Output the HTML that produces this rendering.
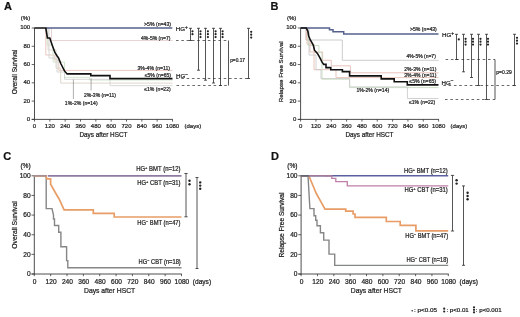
<!DOCTYPE html>
<html><head><meta charset="utf-8"><style>
html,body{margin:0;padding:0;background:#fff;}
svg{display:block;font-family:"Liberation Sans", sans-serif;filter:blur(0.3px);}
text{stroke:#222;stroke-width:0.22px;}
</style></head><body>
<svg width="520" height="317" viewBox="0 0 520 317">
<rect width="520" height="317" fill="#fff"/>
<text x="4.00" y="9.60" font-size="11" font-weight="bold" fill="#111">A</text>
<line x1="34.50" y1="27.70" x2="34.50" y2="119.80" stroke="#3a3a3a" stroke-width="0.9"/>
<line x1="31.70" y1="119.40" x2="172.90" y2="119.40" stroke="#3a3a3a" stroke-width="0.9"/>
<line x1="31.70" y1="119.40" x2="34.50" y2="119.40" stroke="#3a3a3a" stroke-width="0.8"/>
<text x="30.20" y="120.85" font-size="6.0" text-anchor="end" fill="#222">0</text>
<line x1="31.70" y1="101.12" x2="34.50" y2="101.12" stroke="#3a3a3a" stroke-width="0.8"/>
<text x="30.20" y="102.57" font-size="6.0" text-anchor="end" fill="#222">20</text>
<line x1="31.70" y1="82.84" x2="34.50" y2="82.84" stroke="#3a3a3a" stroke-width="0.8"/>
<text x="30.20" y="84.29" font-size="6.0" text-anchor="end" fill="#222">40</text>
<line x1="31.70" y1="64.56" x2="34.50" y2="64.56" stroke="#3a3a3a" stroke-width="0.8"/>
<text x="30.20" y="66.01" font-size="6.0" text-anchor="end" fill="#222">60</text>
<line x1="31.70" y1="46.28" x2="34.50" y2="46.28" stroke="#3a3a3a" stroke-width="0.8"/>
<text x="30.20" y="47.73" font-size="6.0" text-anchor="end" fill="#222">80</text>
<line x1="31.70" y1="28.00" x2="34.50" y2="28.00" stroke="#3a3a3a" stroke-width="0.8"/>
<text x="30.20" y="29.45" font-size="6.0" text-anchor="end" fill="#222">100</text>
<line x1="34.50" y1="119.40" x2="34.50" y2="121.60" stroke="#3a3a3a" stroke-width="0.8"/>
<text x="34.50" y="128.00" font-size="6.0" text-anchor="middle" fill="#222">0</text>
<line x1="49.83" y1="119.40" x2="49.83" y2="121.60" stroke="#3a3a3a" stroke-width="0.8"/>
<text x="49.83" y="128.00" font-size="6.0" text-anchor="middle" fill="#222">120</text>
<line x1="65.17" y1="119.40" x2="65.17" y2="121.60" stroke="#3a3a3a" stroke-width="0.8"/>
<text x="65.17" y="128.00" font-size="6.0" text-anchor="middle" fill="#222">240</text>
<line x1="80.50" y1="119.40" x2="80.50" y2="121.60" stroke="#3a3a3a" stroke-width="0.8"/>
<text x="80.50" y="128.00" font-size="6.0" text-anchor="middle" fill="#222">360</text>
<line x1="95.83" y1="119.40" x2="95.83" y2="121.60" stroke="#3a3a3a" stroke-width="0.8"/>
<text x="95.83" y="128.00" font-size="6.0" text-anchor="middle" fill="#222">480</text>
<line x1="111.17" y1="119.40" x2="111.17" y2="121.60" stroke="#3a3a3a" stroke-width="0.8"/>
<text x="111.17" y="128.00" font-size="6.0" text-anchor="middle" fill="#222">600</text>
<line x1="126.50" y1="119.40" x2="126.50" y2="121.60" stroke="#3a3a3a" stroke-width="0.8"/>
<text x="126.50" y="128.00" font-size="6.0" text-anchor="middle" fill="#222">720</text>
<line x1="141.83" y1="119.40" x2="141.83" y2="121.60" stroke="#3a3a3a" stroke-width="0.8"/>
<text x="141.83" y="128.00" font-size="6.0" text-anchor="middle" fill="#222">840</text>
<line x1="157.17" y1="119.40" x2="157.17" y2="121.60" stroke="#3a3a3a" stroke-width="0.8"/>
<text x="157.17" y="128.00" font-size="6.0" text-anchor="middle" fill="#222">960</text>
<line x1="172.50" y1="119.40" x2="172.50" y2="121.60" stroke="#3a3a3a" stroke-width="0.8"/>
<text x="172.50" y="128.00" font-size="6.0" text-anchor="middle" fill="#222">1080</text>
<text x="30.20" y="20.40" font-size="6.0" text-anchor="end" fill="#222">(%)</text>
<text x="184.50" y="128.00" font-size="6.0" fill="#222">(days)</text>
<text x="17.20" y="72.00" font-size="6.4" text-anchor="middle" fill="#222" transform="rotate(-90 17.20 72.00)">Overall Survival</text>
<text x="79.40" y="137.00" font-size="6.4" textLength="48.00" lengthAdjust="spacingAndGlyphs" fill="#222">Days after HSCT</text>
<path d="M50.5 28H51.5V40.5H172.5" fill="none" stroke="#e6d0ce" stroke-width="0.9" stroke-linejoin="miter" stroke-linecap="butt"/>
<path d="M45.8 28V55H54.3V60H58.8V70.4H172.5" fill="none" stroke="#e8c4ba" stroke-width="0.9" stroke-linejoin="miter" stroke-linecap="butt"/>
<path d="M47 28V45H53V62H64.5V77.4H89.5V80H172.5" fill="none" stroke="#cfe3c8" stroke-width="0.9" stroke-linejoin="miter" stroke-linecap="butt"/>
<path d="M48 28V50H56V68H60.7V83.1H172.5" fill="none" stroke="#dcd3c6" stroke-width="0.9" stroke-linejoin="miter" stroke-linecap="butt"/>
<path d="M49 28V58H57V72H64.5V79.3H110V85.7H172.5" fill="none" stroke="#d4d4d4" stroke-width="0.9" stroke-linejoin="miter" stroke-linecap="butt"/>
<line x1="73.40" y1="79.50" x2="73.40" y2="99.00" stroke="#777" stroke-width="0.6"/>
<line x1="91.10" y1="78.50" x2="91.10" y2="90.40" stroke="#777" stroke-width="0.6"/>
<path d="M46 28H172.3" fill="none" stroke="#55618c" stroke-width="1.5" stroke-linejoin="miter" stroke-linecap="butt"/>
<path d="M34.5 28H45.8L47.4 38H49.8L52.4 45.8L55 52.7L57.3 56.2L58.5 57.9L61 64L64.5 70.9L67.1 73.9H90.8V75.6H110V78.6H172.5" fill="none" stroke="#111" stroke-width="1.6" stroke-linejoin="miter" stroke-linecap="butt"/>
<text x="144.00" y="25.80" font-size="5.2" textLength="27.00" lengthAdjust="spacingAndGlyphs" fill="#222">&gt;5% (n=43)</text>
<text x="141.00" y="39.90" font-size="5.2" textLength="29.50" lengthAdjust="spacingAndGlyphs" fill="#222">4%-5% (n=7)</text>
<text x="137.50" y="69.60" font-size="5.2" textLength="32.50" lengthAdjust="spacingAndGlyphs" fill="#222">3%-4% (n=11)</text>
<text x="144.80" y="76.80" font-size="5.2" textLength="26.20" lengthAdjust="spacingAndGlyphs" fill="#222">≤5% (n=65)</text>
<text x="144.20" y="91.00" font-size="5.2" textLength="26.60" lengthAdjust="spacingAndGlyphs" fill="#222">≤1% (n=22)</text>
<text x="83.90" y="96.60" font-size="5.2" textLength="32.00" lengthAdjust="spacingAndGlyphs" fill="#222">2%-3% (n=11)</text>
<text x="64.80" y="105.30" font-size="5.2" textLength="32.80" lengthAdjust="spacingAndGlyphs" fill="#222">1%-2% (n=14)</text>
<text x="175.80" y="30.60" font-size="6.2" fill="#222">HG<tspan font-size="4.8" dy="-1.6">+</tspan></text>
<text x="176.00" y="78.20" font-size="6.2" fill="#222">HG<tspan font-size="4.8" dy="-2.4">−</tspan></text>
<line x1="176.00" y1="40.50" x2="228.50" y2="40.50" stroke="#444" stroke-width="0.8" stroke-dasharray="2.6,2.7"/>
<line x1="176.00" y1="78.50" x2="248.50" y2="78.50" stroke="#444" stroke-width="0.8" stroke-dasharray="2.6,2.7"/>
<line x1="176.50" y1="85.50" x2="228.50" y2="85.50" stroke="#444" stroke-width="0.8" stroke-dasharray="2.6,2.7"/>
<path d="M189.00 28.30H192.00M190.50 28.30V40.50M189.00 40.50H192.00" fill="none" stroke="#2a2a2a" stroke-width="0.8" stroke-linejoin="miter" stroke-linecap="butt"/>
<circle cx="192.50" cy="31.30" r="1.1" fill="#222"/>
<circle cx="192.50" cy="34.20" r="1.1" fill="#222"/>
<path d="M197.00 28.30H200.00M198.50 28.30V70.20M197.00 70.20H200.00" fill="none" stroke="#2a2a2a" stroke-width="0.8" stroke-linejoin="miter" stroke-linecap="butt"/>
<circle cx="200.50" cy="31.30" r="1.1" fill="#222"/>
<circle cx="200.50" cy="34.20" r="1.1" fill="#222"/>
<circle cx="200.50" cy="37.10" r="1.1" fill="#222"/>
<path d="M204.00 28.30H207.00M205.50 28.30V80.20M204.00 80.20H207.00" fill="none" stroke="#2a2a2a" stroke-width="0.8" stroke-linejoin="miter" stroke-linecap="butt"/>
<circle cx="207.90" cy="31.30" r="1.1" fill="#222"/>
<circle cx="207.90" cy="34.20" r="1.1" fill="#222"/>
<circle cx="207.90" cy="37.10" r="1.1" fill="#222"/>
<path d="M212.00 28.30H215.00M213.50 28.30V83.00M212.00 83.00H215.00" fill="none" stroke="#2a2a2a" stroke-width="0.8" stroke-linejoin="miter" stroke-linecap="butt"/>
<circle cx="215.60" cy="31.30" r="1.1" fill="#222"/>
<circle cx="215.60" cy="34.20" r="1.1" fill="#222"/>
<circle cx="215.60" cy="37.10" r="1.1" fill="#222"/>
<path d="M219.00 28.30H222.00M220.50 28.30V85.50M219.00 85.50H222.00" fill="none" stroke="#2a2a2a" stroke-width="0.8" stroke-linejoin="miter" stroke-linecap="butt"/>
<circle cx="222.60" cy="31.30" r="1.1" fill="#222"/>
<circle cx="222.60" cy="34.20" r="1.1" fill="#222"/>
<circle cx="222.60" cy="37.10" r="1.1" fill="#222"/>
<line x1="228.50" y1="40.50" x2="228.50" y2="85.50" stroke="#2a2a2a" stroke-width="0.8"/>
<text x="230.20" y="61.90" font-size="5.2" textLength="14.80" lengthAdjust="spacingAndGlyphs" fill="#222">p=0.17</text>
<path d="M247.00 28.30H250.00M248.50 28.30V78.50M247.00 78.50H250.00" fill="none" stroke="#2a2a2a" stroke-width="0.8" stroke-linejoin="miter" stroke-linecap="butt"/>
<circle cx="251.20" cy="31.80" r="1.1" fill="#222"/>
<circle cx="251.20" cy="34.70" r="1.1" fill="#222"/>
<circle cx="251.20" cy="37.60" r="1.1" fill="#222"/>
<text x="270.40" y="9.60" font-size="11" font-weight="bold" fill="#111">B</text>
<line x1="300.60" y1="27.70" x2="300.60" y2="119.80" stroke="#3a3a3a" stroke-width="0.9"/>
<line x1="297.80" y1="119.40" x2="439.00" y2="119.40" stroke="#3a3a3a" stroke-width="0.9"/>
<line x1="297.80" y1="119.40" x2="300.60" y2="119.40" stroke="#3a3a3a" stroke-width="0.8"/>
<text x="296.30" y="120.85" font-size="6.0" text-anchor="end" fill="#222">0</text>
<line x1="297.80" y1="101.12" x2="300.60" y2="101.12" stroke="#3a3a3a" stroke-width="0.8"/>
<text x="296.30" y="102.57" font-size="6.0" text-anchor="end" fill="#222">20</text>
<line x1="297.80" y1="82.84" x2="300.60" y2="82.84" stroke="#3a3a3a" stroke-width="0.8"/>
<text x="296.30" y="84.29" font-size="6.0" text-anchor="end" fill="#222">40</text>
<line x1="297.80" y1="64.56" x2="300.60" y2="64.56" stroke="#3a3a3a" stroke-width="0.8"/>
<text x="296.30" y="66.01" font-size="6.0" text-anchor="end" fill="#222">60</text>
<line x1="297.80" y1="46.28" x2="300.60" y2="46.28" stroke="#3a3a3a" stroke-width="0.8"/>
<text x="296.30" y="47.73" font-size="6.0" text-anchor="end" fill="#222">80</text>
<line x1="297.80" y1="28.00" x2="300.60" y2="28.00" stroke="#3a3a3a" stroke-width="0.8"/>
<text x="296.30" y="29.45" font-size="6.0" text-anchor="end" fill="#222">100</text>
<line x1="300.60" y1="119.40" x2="300.60" y2="121.60" stroke="#3a3a3a" stroke-width="0.8"/>
<text x="300.60" y="128.00" font-size="6.0" text-anchor="middle" fill="#222">0</text>
<line x1="315.93" y1="119.40" x2="315.93" y2="121.60" stroke="#3a3a3a" stroke-width="0.8"/>
<text x="315.93" y="128.00" font-size="6.0" text-anchor="middle" fill="#222">120</text>
<line x1="331.27" y1="119.40" x2="331.27" y2="121.60" stroke="#3a3a3a" stroke-width="0.8"/>
<text x="331.27" y="128.00" font-size="6.0" text-anchor="middle" fill="#222">240</text>
<line x1="346.60" y1="119.40" x2="346.60" y2="121.60" stroke="#3a3a3a" stroke-width="0.8"/>
<text x="346.60" y="128.00" font-size="6.0" text-anchor="middle" fill="#222">360</text>
<line x1="361.93" y1="119.40" x2="361.93" y2="121.60" stroke="#3a3a3a" stroke-width="0.8"/>
<text x="361.93" y="128.00" font-size="6.0" text-anchor="middle" fill="#222">480</text>
<line x1="377.27" y1="119.40" x2="377.27" y2="121.60" stroke="#3a3a3a" stroke-width="0.8"/>
<text x="377.27" y="128.00" font-size="6.0" text-anchor="middle" fill="#222">600</text>
<line x1="392.60" y1="119.40" x2="392.60" y2="121.60" stroke="#3a3a3a" stroke-width="0.8"/>
<text x="392.60" y="128.00" font-size="6.0" text-anchor="middle" fill="#222">720</text>
<line x1="407.93" y1="119.40" x2="407.93" y2="121.60" stroke="#3a3a3a" stroke-width="0.8"/>
<text x="407.93" y="128.00" font-size="6.0" text-anchor="middle" fill="#222">840</text>
<line x1="423.27" y1="119.40" x2="423.27" y2="121.60" stroke="#3a3a3a" stroke-width="0.8"/>
<text x="423.27" y="128.00" font-size="6.0" text-anchor="middle" fill="#222">960</text>
<line x1="438.60" y1="119.40" x2="438.60" y2="121.60" stroke="#3a3a3a" stroke-width="0.8"/>
<text x="438.60" y="128.00" font-size="6.0" text-anchor="middle" fill="#222">1080</text>
<text x="296.30" y="20.40" font-size="6.0" text-anchor="end" fill="#222">(%)</text>
<text x="450.60" y="128.00" font-size="6.0" fill="#222">(days)</text>
<text x="282.90" y="71.80" font-size="6.2" text-anchor="middle" fill="#222" transform="rotate(-90 282.90 71.80)">Relapse Free Survival</text>
<text x="345.50" y="137.00" font-size="6.4" textLength="48.00" lengthAdjust="spacingAndGlyphs" fill="#222">Days after HSCT</text>
<path d="M306 28V40H342.3V60.3H438.5" fill="none" stroke="#c6c6c6" stroke-width="0.9" stroke-linejoin="miter" stroke-linecap="butt"/>
<path d="M306.3 28V40H310V52H322.6V60.3H331.3V65.8H350.4V72.8H438.5" fill="none" stroke="#e6bcb6" stroke-width="0.9" stroke-linejoin="miter" stroke-linecap="butt"/>
<path d="M307 28V44H314V69.7H336V77.6H438.5" fill="none" stroke="#e6bfb2" stroke-width="0.9" stroke-linejoin="miter" stroke-linecap="butt"/>
<path d="M308 28V45.5H318.9V52.6H322V79.2H349.6V87.6H438.5" fill="none" stroke="#c6dcbf" stroke-width="0.9" stroke-linejoin="miter" stroke-linecap="butt"/>
<path d="M309 28V55H316V69.7H321V78.5H349.6V86.9H407.4V98.5H438.5" fill="none" stroke="#cccccc" stroke-width="0.9" stroke-linejoin="miter" stroke-linecap="butt"/>
<path d="M300.6 28H329.5V29.7H333V31.8H343.7V33.9H438.5" fill="none" stroke="#55618c" stroke-width="1.5" stroke-linejoin="miter" stroke-linecap="butt"/>
<path d="M300.6 28H306.3L307.9 31.3L308.7 36L310.3 40L311.8 42.4L313.4 45.5L314.5 50.2L317.4 53.4L319.7 57.3L322.1 62.1L323.7 64.4H326V67.6H330.8V69.8H342.4V71.6H349.6V75.9H381.2V78.9H394.2V81.7H407.3V84.9H438.5" fill="none" stroke="#111" stroke-width="1.6" stroke-linejoin="miter" stroke-linecap="butt"/>
<text x="410.00" y="31.30" font-size="5.2" textLength="26.80" lengthAdjust="spacingAndGlyphs" fill="#222">&gt;5% (n=43)</text>
<text x="406.60" y="57.90" font-size="5.2" textLength="29.20" lengthAdjust="spacingAndGlyphs" fill="#222">4%-5% (n=7)</text>
<text x="404.20" y="70.80" font-size="5.2" textLength="32.20" lengthAdjust="spacingAndGlyphs" fill="#222">2%-3% (n=11)</text>
<text x="404.20" y="76.90" font-size="5.2" textLength="32.20" lengthAdjust="spacingAndGlyphs" fill="#222">3%-4% (n=11)</text>
<text x="409.30" y="83.00" font-size="5.2" textLength="26.80" lengthAdjust="spacingAndGlyphs" fill="#222">≤5% (n=65)</text>
<text x="356.40" y="91.60" font-size="5.2" textLength="32.80" lengthAdjust="spacingAndGlyphs" fill="#222">1%-2% (n=14)</text>
<text x="409.00" y="104.30" font-size="5.2" textLength="26.20" lengthAdjust="spacingAndGlyphs" fill="#222">≤1% (n=22)</text>
<text x="442.00" y="36.70" font-size="6.2" fill="#222">HG<tspan font-size="4.8" dy="-1.6">+</tspan></text>
<text x="441.50" y="84.60" font-size="6.2" fill="#222">HG<tspan font-size="4.8" dy="-2.4">−</tspan></text>
<line x1="445.60" y1="59.50" x2="495.00" y2="59.50" stroke="#444" stroke-width="0.8" stroke-dasharray="2.6,2.7"/>
<line x1="443.30" y1="85.50" x2="514.50" y2="85.50" stroke="#444" stroke-width="0.8" stroke-dasharray="2.6,2.7"/>
<line x1="445.00" y1="99.50" x2="495.00" y2="99.50" stroke="#444" stroke-width="0.8" stroke-dasharray="2.6,2.7"/>
<path d="M455.00 34.30H458.00M456.50 34.30V59.50M455.00 59.50H458.00" fill="none" stroke="#2a2a2a" stroke-width="0.8" stroke-linejoin="miter" stroke-linecap="butt"/>
<circle cx="458.80" cy="39.40" r="1.1" fill="#222"/>
<path d="M462.00 34.30H465.00M463.50 34.30V71.80M462.00 71.80H465.00" fill="none" stroke="#2a2a2a" stroke-width="0.8" stroke-linejoin="miter" stroke-linecap="butt"/>
<circle cx="465.60" cy="38.80" r="1.1" fill="#222"/>
<circle cx="465.60" cy="41.70" r="1.1" fill="#222"/>
<circle cx="465.60" cy="44.60" r="1.1" fill="#222"/>
<path d="M470.00 34.30H473.00M471.50 34.30V77.50M470.00 77.50H473.00" fill="none" stroke="#2a2a2a" stroke-width="0.8" stroke-linejoin="miter" stroke-linecap="butt"/>
<circle cx="473.00" cy="38.80" r="1.1" fill="#222"/>
<circle cx="473.00" cy="41.70" r="1.1" fill="#222"/>
<circle cx="473.00" cy="44.60" r="1.1" fill="#222"/>
<path d="M477.00 34.30H480.00M478.50 34.30V85.50M477.00 85.50H480.00" fill="none" stroke="#2a2a2a" stroke-width="0.8" stroke-linejoin="miter" stroke-linecap="butt"/>
<circle cx="480.50" cy="38.80" r="1.1" fill="#222"/>
<circle cx="480.50" cy="41.70" r="1.1" fill="#222"/>
<circle cx="480.50" cy="44.60" r="1.1" fill="#222"/>
<path d="M485.00 34.30H488.00M486.50 34.30V99.50M485.00 99.50H488.00" fill="none" stroke="#2a2a2a" stroke-width="0.8" stroke-linejoin="miter" stroke-linecap="butt"/>
<circle cx="488.00" cy="38.80" r="1.1" fill="#222"/>
<circle cx="488.00" cy="41.70" r="1.1" fill="#222"/>
<circle cx="488.00" cy="44.60" r="1.1" fill="#222"/>
<line x1="495.00" y1="59.50" x2="495.00" y2="99.50" stroke="#2a2a2a" stroke-width="0.8"/>
<text x="496.30" y="74.20" font-size="5.2" textLength="15.40" lengthAdjust="spacingAndGlyphs" fill="#222">p=0.29</text>
<path d="M513.00 34.30H516.00M514.50 34.30V85.50M513.00 85.50H516.00" fill="none" stroke="#2a2a2a" stroke-width="0.8" stroke-linejoin="miter" stroke-linecap="butt"/>
<circle cx="517.00" cy="37.80" r="1.1" fill="#222"/>
<circle cx="517.00" cy="40.70" r="1.1" fill="#222"/>
<circle cx="517.00" cy="43.60" r="1.1" fill="#222"/>
<text x="3.20" y="160.00" font-size="11" font-weight="bold" fill="#111">C</text>
<line x1="34.30" y1="175.50" x2="34.30" y2="274.40" stroke="#3a3a3a" stroke-width="0.9"/>
<line x1="31.50" y1="274.00" x2="181.90" y2="274.00" stroke="#3a3a3a" stroke-width="0.9"/>
<line x1="31.50" y1="274.00" x2="34.30" y2="274.00" stroke="#3a3a3a" stroke-width="0.8"/>
<text x="30.70" y="276.30" font-size="6.6" text-anchor="end" fill="#222">0</text>
<line x1="31.50" y1="254.36" x2="34.30" y2="254.36" stroke="#3a3a3a" stroke-width="0.8"/>
<text x="30.70" y="256.66" font-size="6.6" text-anchor="end" fill="#222">20</text>
<line x1="31.50" y1="234.72" x2="34.30" y2="234.72" stroke="#3a3a3a" stroke-width="0.8"/>
<text x="30.70" y="237.02" font-size="6.6" text-anchor="end" fill="#222">40</text>
<line x1="31.50" y1="215.08" x2="34.30" y2="215.08" stroke="#3a3a3a" stroke-width="0.8"/>
<text x="30.70" y="217.38" font-size="6.6" text-anchor="end" fill="#222">60</text>
<line x1="31.50" y1="195.44" x2="34.30" y2="195.44" stroke="#3a3a3a" stroke-width="0.8"/>
<text x="30.70" y="197.74" font-size="6.6" text-anchor="end" fill="#222">80</text>
<line x1="31.50" y1="175.80" x2="34.30" y2="175.80" stroke="#3a3a3a" stroke-width="0.8"/>
<text x="30.70" y="178.10" font-size="6.6" text-anchor="end" fill="#222">100</text>
<line x1="34.30" y1="274.00" x2="34.30" y2="276.20" stroke="#3a3a3a" stroke-width="0.8"/>
<text x="34.70" y="283.60" font-size="6.6" text-anchor="middle" fill="#222">0</text>
<line x1="50.66" y1="274.00" x2="50.66" y2="276.20" stroke="#3a3a3a" stroke-width="0.8"/>
<text x="51.06" y="283.60" font-size="6.6" text-anchor="middle" fill="#222">120</text>
<line x1="67.01" y1="274.00" x2="67.01" y2="276.20" stroke="#3a3a3a" stroke-width="0.8"/>
<text x="67.41" y="283.60" font-size="6.6" text-anchor="middle" fill="#222">240</text>
<line x1="83.37" y1="274.00" x2="83.37" y2="276.20" stroke="#3a3a3a" stroke-width="0.8"/>
<text x="83.77" y="283.60" font-size="6.6" text-anchor="middle" fill="#222">360</text>
<line x1="99.72" y1="274.00" x2="99.72" y2="276.20" stroke="#3a3a3a" stroke-width="0.8"/>
<text x="100.12" y="283.60" font-size="6.6" text-anchor="middle" fill="#222">480</text>
<line x1="116.08" y1="274.00" x2="116.08" y2="276.20" stroke="#3a3a3a" stroke-width="0.8"/>
<text x="116.48" y="283.60" font-size="6.6" text-anchor="middle" fill="#222">600</text>
<line x1="132.43" y1="274.00" x2="132.43" y2="276.20" stroke="#3a3a3a" stroke-width="0.8"/>
<text x="132.83" y="283.60" font-size="6.6" text-anchor="middle" fill="#222">720</text>
<line x1="148.79" y1="274.00" x2="148.79" y2="276.20" stroke="#3a3a3a" stroke-width="0.8"/>
<text x="149.19" y="283.60" font-size="6.6" text-anchor="middle" fill="#222">840</text>
<line x1="165.14" y1="274.00" x2="165.14" y2="276.20" stroke="#3a3a3a" stroke-width="0.8"/>
<text x="165.54" y="283.60" font-size="6.6" text-anchor="middle" fill="#222">960</text>
<line x1="181.50" y1="274.00" x2="181.50" y2="276.20" stroke="#3a3a3a" stroke-width="0.8"/>
<text x="181.90" y="283.60" font-size="6.6" text-anchor="middle" fill="#222">1080</text>
<text x="30.70" y="168.00" font-size="6.6" text-anchor="end" fill="#222">(%)</text>
<text x="192.80" y="283.60" font-size="6.6" fill="#222">(days)</text>
<text x="17.00" y="225.00" font-size="6.8" text-anchor="middle" fill="#222" transform="rotate(-90 17.00 225.00)">Overall Survival</text>
<text x="84.00" y="293.00" font-size="6.8" textLength="51.20" lengthAdjust="spacingAndGlyphs" fill="#222">Days after HSCT</text>
<path d="M34.3 175.8H46.2V208.6H52L53.5 215V219H54.5V225.5H58.7V232.2H60.9V246.7H66.6V260.6H67.8V267.7H181.5" fill="none" stroke="#858687" stroke-width="1.4" stroke-linejoin="miter" stroke-linecap="butt"/>
<path d="M34.3 175.8H45.7L47 178.8H50.6V184.2L57 195.5L59.1 199L64.1 209.9H93.3V213.3H114.2V217H181.5" fill="none" stroke="#e89d66" stroke-width="1.7" stroke-linejoin="miter" stroke-linecap="butt"/>
<path d="M47.8 175.9H181.5" fill="none" stroke="#8e7aa2" stroke-width="1.9" stroke-linejoin="miter" stroke-linecap="butt"/>
<path d="M34.3 175.8H46.6" fill="none" stroke="#a89092" stroke-width="1.7" stroke-linejoin="miter" stroke-linecap="butt"/>
<text x="136.20" y="171.40" font-size="6.5" textLength="44.30" lengthAdjust="spacingAndGlyphs" fill="#222">HG<tspan font-size="4.4" dy="-2.1">+</tspan><tspan dy="2.1"> BMT</tspan> (n=12)</text>
<text x="137.30" y="185.20" font-size="6.5" textLength="43.20" lengthAdjust="spacingAndGlyphs" fill="#222">HG<tspan font-size="4.4" dy="-2.1">+</tspan><tspan dy="2.1"> CBT</tspan> (n=31)</text>
<text x="137.30" y="224.90" font-size="6.5" textLength="43.20" lengthAdjust="spacingAndGlyphs" fill="#222">HG<tspan font-size="4.4" dy="-2.1">−</tspan><tspan dy="2.1"> BMT</tspan> (n=47)</text>
<text x="138.50" y="263.80" font-size="6.5" textLength="42.30" lengthAdjust="spacingAndGlyphs" fill="#222">HG<tspan font-size="4.4" dy="-2.1">−</tspan><tspan dy="2.1"> CBT</tspan> (n=18)</text>
<path d="M184.40 173.50H187.60M186.00 173.50V216.80M184.40 216.80H187.60" fill="none" stroke="#2a2a2a" stroke-width="0.8" stroke-linejoin="miter" stroke-linecap="butt"/>
<circle cx="189.50" cy="180.80" r="1.2" fill="#222"/>
<circle cx="189.50" cy="184.20" r="1.2" fill="#222"/>
<path d="M195.50 177.50H198.50M197.00 177.50V268.50M195.50 268.50H198.50" fill="none" stroke="#2a2a2a" stroke-width="0.8" stroke-linejoin="miter" stroke-linecap="butt"/>
<circle cx="200.20" cy="182.40" r="1.2" fill="#222"/>
<circle cx="200.20" cy="185.60" r="1.2" fill="#222"/>
<circle cx="200.20" cy="188.80" r="1.2" fill="#222"/>
<text x="271.00" y="160.00" font-size="11" font-weight="bold" fill="#111">D</text>
<line x1="301.10" y1="175.50" x2="301.10" y2="274.40" stroke="#3a3a3a" stroke-width="0.9"/>
<line x1="298.30" y1="274.00" x2="448.70" y2="274.00" stroke="#3a3a3a" stroke-width="0.9"/>
<line x1="298.30" y1="274.00" x2="301.10" y2="274.00" stroke="#3a3a3a" stroke-width="0.8"/>
<text x="297.50" y="276.30" font-size="6.6" text-anchor="end" fill="#222">0</text>
<line x1="298.30" y1="254.36" x2="301.10" y2="254.36" stroke="#3a3a3a" stroke-width="0.8"/>
<text x="297.50" y="256.66" font-size="6.6" text-anchor="end" fill="#222">20</text>
<line x1="298.30" y1="234.72" x2="301.10" y2="234.72" stroke="#3a3a3a" stroke-width="0.8"/>
<text x="297.50" y="237.02" font-size="6.6" text-anchor="end" fill="#222">40</text>
<line x1="298.30" y1="215.08" x2="301.10" y2="215.08" stroke="#3a3a3a" stroke-width="0.8"/>
<text x="297.50" y="217.38" font-size="6.6" text-anchor="end" fill="#222">60</text>
<line x1="298.30" y1="195.44" x2="301.10" y2="195.44" stroke="#3a3a3a" stroke-width="0.8"/>
<text x="297.50" y="197.74" font-size="6.6" text-anchor="end" fill="#222">80</text>
<line x1="298.30" y1="175.80" x2="301.10" y2="175.80" stroke="#3a3a3a" stroke-width="0.8"/>
<text x="297.50" y="178.10" font-size="6.6" text-anchor="end" fill="#222">100</text>
<line x1="301.10" y1="274.00" x2="301.10" y2="276.20" stroke="#3a3a3a" stroke-width="0.8"/>
<text x="301.50" y="283.60" font-size="6.6" text-anchor="middle" fill="#222">0</text>
<line x1="317.46" y1="274.00" x2="317.46" y2="276.20" stroke="#3a3a3a" stroke-width="0.8"/>
<text x="317.86" y="283.60" font-size="6.6" text-anchor="middle" fill="#222">120</text>
<line x1="333.81" y1="274.00" x2="333.81" y2="276.20" stroke="#3a3a3a" stroke-width="0.8"/>
<text x="334.21" y="283.60" font-size="6.6" text-anchor="middle" fill="#222">240</text>
<line x1="350.17" y1="274.00" x2="350.17" y2="276.20" stroke="#3a3a3a" stroke-width="0.8"/>
<text x="350.57" y="283.60" font-size="6.6" text-anchor="middle" fill="#222">360</text>
<line x1="366.52" y1="274.00" x2="366.52" y2="276.20" stroke="#3a3a3a" stroke-width="0.8"/>
<text x="366.92" y="283.60" font-size="6.6" text-anchor="middle" fill="#222">480</text>
<line x1="382.88" y1="274.00" x2="382.88" y2="276.20" stroke="#3a3a3a" stroke-width="0.8"/>
<text x="383.28" y="283.60" font-size="6.6" text-anchor="middle" fill="#222">600</text>
<line x1="399.23" y1="274.00" x2="399.23" y2="276.20" stroke="#3a3a3a" stroke-width="0.8"/>
<text x="399.63" y="283.60" font-size="6.6" text-anchor="middle" fill="#222">720</text>
<line x1="415.59" y1="274.00" x2="415.59" y2="276.20" stroke="#3a3a3a" stroke-width="0.8"/>
<text x="415.99" y="283.60" font-size="6.6" text-anchor="middle" fill="#222">840</text>
<line x1="431.94" y1="274.00" x2="431.94" y2="276.20" stroke="#3a3a3a" stroke-width="0.8"/>
<text x="432.34" y="283.60" font-size="6.6" text-anchor="middle" fill="#222">960</text>
<line x1="448.30" y1="274.00" x2="448.30" y2="276.20" stroke="#3a3a3a" stroke-width="0.8"/>
<text x="448.70" y="283.60" font-size="6.6" text-anchor="middle" fill="#222">1080</text>
<text x="297.50" y="168.00" font-size="6.6" text-anchor="end" fill="#222">(%)</text>
<text x="459.60" y="283.60" font-size="6.6" fill="#222">(days)</text>
<text x="283.50" y="225.00" font-size="6.6" text-anchor="middle" fill="#222" transform="rotate(-90 283.50 225.00)">Relapse Free Survival</text>
<text x="350.80" y="293.00" font-size="6.8" textLength="51.20" lengthAdjust="spacingAndGlyphs" fill="#222">Days after HSCT</text>
<path d="M301.1 175.8H308L309.9 208.6H314V215.7H315.7V220.2H317V225.8H320.4V232.8H323.7V240.1H329V254.1H334.7V265.4H448.2" fill="none" stroke="#858687" stroke-width="1.4" stroke-linejoin="miter" stroke-linecap="butt"/>
<path d="M301.1 175.8H308.9L312.5 184.5L316.3 193.5L320.3 200.6L325 209.2H345.7V211.2H353.1V214H355V217.4H386.3V221.5H400.2V225.3H415.9V230.8H448.2" fill="none" stroke="#e89d66" stroke-width="1.7" stroke-linejoin="miter" stroke-linecap="butt"/>
<path d="M301.1 175.8H448.2" fill="none" stroke="#5a60a0" stroke-width="1.4" stroke-linejoin="miter" stroke-linecap="butt"/>
<path d="M325 175.8H331.8V178.4H335.8V181.6H347.3V185.8H448.2" fill="none" stroke="#bf7fa8" stroke-width="1.3" stroke-linejoin="miter" stroke-linecap="butt"/>
<path d="M308.6 175.8H332.2" fill="none" stroke="#a57c9c" stroke-width="1.5" stroke-linejoin="miter" stroke-linecap="butt"/>
<path d="M301.1 175.8H308.8" fill="none" stroke="#66646e" stroke-width="1.5" stroke-linejoin="miter" stroke-linecap="butt"/>
<text x="403.90" y="173.00" font-size="6.5" textLength="43.90" lengthAdjust="spacingAndGlyphs" fill="#222">HG<tspan font-size="4.4" dy="-2.1">+</tspan><tspan dy="2.1"> BMT</tspan> (n=12)</text>
<text x="404.40" y="192.20" font-size="6.5" textLength="43.40" lengthAdjust="spacingAndGlyphs" fill="#222">HG<tspan font-size="4.4" dy="-2.1">+</tspan><tspan dy="2.1"> CBT</tspan> (n=31)</text>
<text x="405.30" y="238.30" font-size="6.5" textLength="42.90" lengthAdjust="spacingAndGlyphs" fill="#222">HG<tspan font-size="4.4" dy="-2.1">−</tspan><tspan dy="2.1"> BMT</tspan> (n=47)</text>
<text x="406.50" y="262.30" font-size="6.5" textLength="41.70" lengthAdjust="spacingAndGlyphs" fill="#222">HG<tspan font-size="4.4" dy="-2.1">−</tspan><tspan dy="2.1"> CBT</tspan> (n=18)</text>
<path d="M450.90 175.40H454.10M452.50 175.40V231.00M450.90 231.00H454.10" fill="none" stroke="#2a2a2a" stroke-width="0.8" stroke-linejoin="miter" stroke-linecap="butt"/>
<circle cx="456.60" cy="180.30" r="1.2" fill="#222"/>
<circle cx="456.60" cy="183.60" r="1.2" fill="#222"/>
<path d="M462.00 185.90H465.00M463.50 185.90V265.30M462.00 265.30H465.00" fill="none" stroke="#2a2a2a" stroke-width="0.8" stroke-linejoin="miter" stroke-linecap="butt"/>
<circle cx="467.60" cy="192.80" r="1.2" fill="#222"/>
<circle cx="467.60" cy="196.05" r="1.2" fill="#222"/>
<circle cx="467.60" cy="199.30" r="1.2" fill="#222"/>
<circle cx="412.20" cy="310.80" r="0.8" fill="#222"/>
<text x="414.00" y="312.40" font-size="5.8" textLength="23.00" lengthAdjust="spacingAndGlyphs" fill="#222">: p&lt;0.05</text>
<circle cx="444.20" cy="308.70" r="1.1" fill="#222"/>
<circle cx="444.20" cy="311.50" r="1.1" fill="#222"/>
<text x="446.40" y="312.40" font-size="5.8" textLength="22.40" lengthAdjust="spacingAndGlyphs" fill="#222">: p&lt;0.01</text>
<circle cx="474.00" cy="307.30" r="1.1" fill="#222"/>
<circle cx="474.00" cy="309.80" r="1.1" fill="#222"/>
<circle cx="474.00" cy="312.30" r="1.1" fill="#222"/>
<text x="475.80" y="312.40" font-size="5.8" textLength="25.80" lengthAdjust="spacingAndGlyphs" fill="#222">: p&lt;0.001</text>
</svg>
</body></html>
